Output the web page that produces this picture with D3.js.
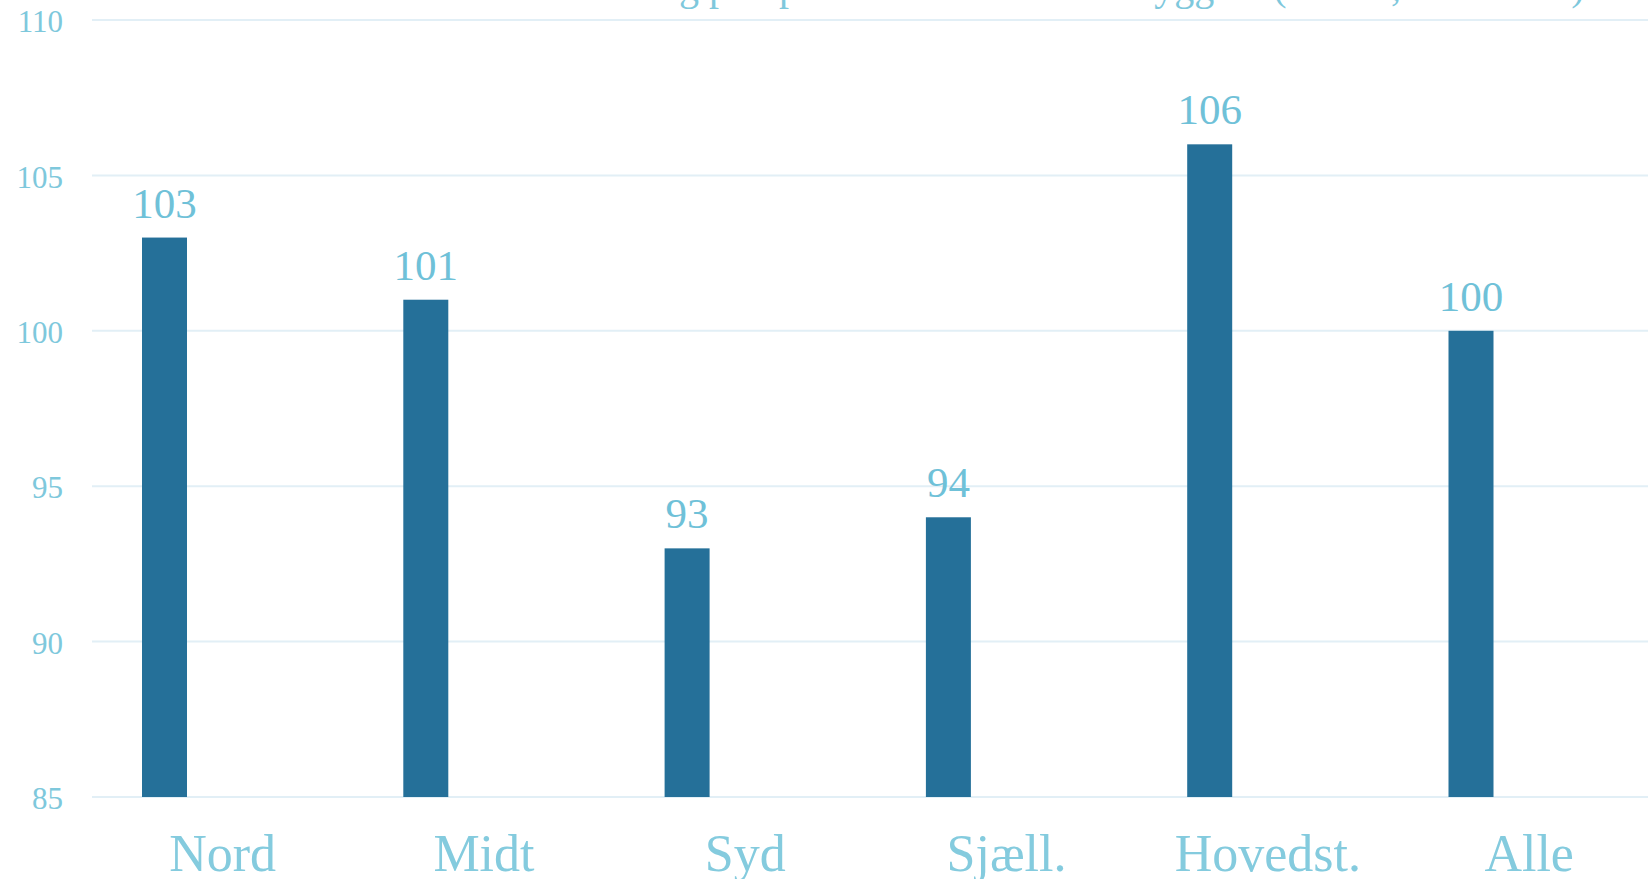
<!DOCTYPE html>
<html>
<head>
<meta charset="utf-8">
<script src="https://cdn.jsdelivr.net/npm/d3@7"></script>
<style>
  body { margin: 0; background: #fff; }
  svg { display: block; font-family: "Liberation Serif", "DejaVu Serif", serif; }
</style>
</head>
<body>
<div id="chart"></div>
<script>
// data
const categories = ["Nord", "Midt", "Syd", "Sjæll.", "Hovedst.", "Alle"];
const values = [103, 101, 93, 94, 106, 100];
const yTicks = [85, 90, 95, 100, 105, 110];
const title = "Gennemsnitlig pris pr. kvadratmeter efter byggeår (indeks, alle = 100)";

const width = 1648, height = 879;
const margin = {top: 20, left: 92, bottom: 82};

const svg = d3.select("#chart").append("svg")
    .attr("width", width)
    .attr("height", height);

// scales
const x = d3.scaleBand()
    .domain(categories)
    .range([margin.left, margin.left + 6 * 261.3]);

const y = d3.scaleLinear()
    .domain([85, 110])
    .range([height - margin.bottom, margin.top]);

// title (mostly cut off at the top in the reference)
svg.append("text")
    .attr("x", 1024)
    .attr("y", 0)
    .attr("text-anchor", "middle")
    .style("font-size", "40px")
    .style("fill", "#7ec8dc")
    .text(title);

// gridlines
svg.append("g")
    .selectAll("line")
    .data(yTicks)
    .join("line")
    .attr("x1", margin.left)
    .attr("x2", width)
    .attr("y1", d => y(d))
    .attr("y2", d => y(d))
    .attr("stroke", "#e2eff6")
    .attr("stroke-width", 2);

// y axis labels
const yAxis = d3.axisLeft(y)
    .tickValues(yTicks)
    .tickSize(0)
    .tickPadding(0);

svg.append("g")
    .attr("transform", "translate(63,0)")
    .call(yAxis)
    .call(g => g.select(".domain").remove())
    .selectAll("text")
    .attr("dy", "0.38em")
    .style("font-family", "Liberation Serif, serif")
    .style("font-size", "31px")
    .style("fill", "#7ec8dc");

// bars
const barOffset = 50, barWidth = 45;

svg.append("g")
    .selectAll("rect")
    .data(values)
    .join("rect")
    .attr("x", (d, i) => x(categories[i]) + barOffset)
    .attr("y", d => y(d))
    .attr("width", barWidth)
    .attr("height", d => y(85) - y(d))
    .attr("fill", "#257099");

// value labels
svg.append("g")
    .selectAll("text")
    .data(values)
    .join("text")
    .attr("x", (d, i) => x(categories[i]) + barOffset + barWidth / 2)
    .attr("y", d => y(d) - 20)
    .attr("text-anchor", "middle")
    .style("font-size", "43px")
    .style("fill", "#6fc1d8")
    .text(d => d);

// category labels
svg.append("g")
    .selectAll("text")
    .data(categories)
    .join("text")
    .attr("x", d => x(d) + x.bandwidth() / 2)
    .attr("y", 871)
    .attr("text-anchor", "middle")
    .style("font-size", "52px")
    .style("fill", "#84cbde")
    .text(d => d);
</script>
</body>
</html>
